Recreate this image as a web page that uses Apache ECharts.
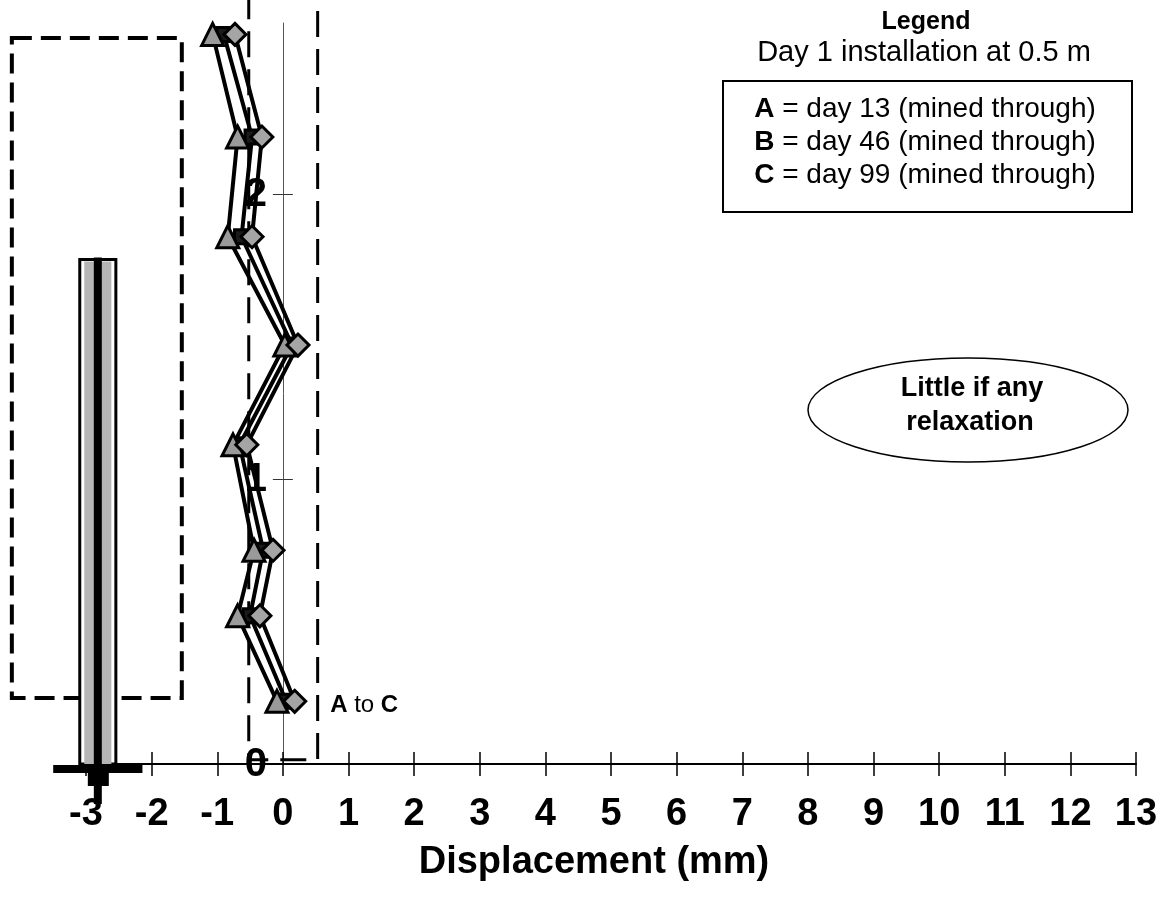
<!DOCTYPE html>
<html>
<head>
<meta charset="utf-8">
<script src="https://cdn.jsdelivr.net/npm/echarts@6/dist/echarts.min.js"></script>
<style>
  html, body { margin: 0; padding: 0; background: #fff; }
  #chart { width: 1171px; height: 899px; }
</style>
</head>
<body>
<div id="chart"></div>
<script>
// Profile of borehole displacement vs depth, three readings after mining through.
const depth = [2.56, 2.20, 1.85, 1.47, 1.12, 0.75, 0.52, 0.22];      // m
const dispA = [-0.73, -0.32, -0.47, 0.23, -0.55, -0.15, -0.35, 0.18]; // day 13
const dispB = [-0.90, -0.47, -0.63, 0.14, -0.66, -0.30, -0.50, 0.05]; // day 46
const dispC = [-1.07, -0.69, -0.84, 0.03, -0.76, -0.44, -0.69, -0.09]; // day 99
const yLabelValues = [0, 1, 2];
const yTickValues = [1, 2];

// annotations, in data units: [x0, y0, x1, y1]
const leftBox = [-4.13, 0.232, -1.54, 2.547];
const zoneBox = [-0.52, 0.015, 0.53, 2.8];
const pillar = { x: -2.82, halfW: 0.275, top: 1.77, baseHalf: 0.68 };
const noteAtoC = [0.72, 0.205];

const FONT = 'Arial, "Liberation Sans", sans-serif';
const chart = echarts.init(document.getElementById('chart'), null, { renderer: 'canvas' });

function lineSeries(name, xs, symbol, size, fill) {
  return {
    name, type: 'line', xAxisIndex: 0, yAxisIndex: 0,
    data: depth.map((d, i) => [xs[i], d]),
    symbol, symbolSize: size, showAllSymbol: true,
    lineStyle: { color: '#000', width: 4 },
    itemStyle: { color: fill, borderColor: '#000', borderWidth: 3 },
    z: 3,
  };
}

chart.setOption({
  animation: false,
  backgroundColor: '#fff',
  grid: { left: 86, right: 35, top: 23, bottom: 135, containLabel: false, outerBoundsMode: 'none' },
  xAxis: [{
    type: 'value', min: -3, max: 13, interval: 1, position: 'bottom',
    axisLine: { onZero: false, lineStyle: { color: '#000', width: 2 } },
    axisTick: { length: 12, lineStyle: { color: '#000', width: 1.5 } },
    axisLabel: { color: '#000', fontFamily: FONT, fontWeight: 'bold', fontSize: 38, margin: 32 },
    splitLine: { show: false },
    name: 'Displacement (mm)', nameLocation: 'middle', nameGap: 80,
    nameTextStyle: { color: '#000', fontFamily: FONT, fontWeight: 'bold', fontSize: 38, padding: [0, 34, 0, 0] },
  }, {
    type: 'value', min: -3, max: 13, interval: 1, position: 'bottom',
    axisLine: { show: false, onZero: false },
    axisTick: { inside: true, length: 12, lineStyle: { color: '#000', width: 1.5 } },
    axisLabel: { show: false }, splitLine: { show: false },
  }],
  yAxis: [{
    type: 'value', min: 0, max: 2.6, position: 'left',
    axisLine: { onZero: true, onZeroAxisIndex: 0, lineStyle: { color: '#555', width: 1 } },
    axisTick: { customValues: yTickValues, length: 10, lineStyle: { color: '#333', width: 1 } },
    axisLabel: { show: false },
    splitLine: { show: false },
  }, {
    type: 'value', min: 0, max: 2.6, position: 'left',
    axisLine: { show: false, onZero: true, onZeroAxisIndex: 0 },
    axisTick: { customValues: yTickValues, inside: true, length: 10, lineStyle: { color: '#333', width: 1 } },
    axisLabel: { show: false }, splitLine: { show: false },
  }],
  series: [
    lineSeries('B', dispB, 'rect', 14, '#1a1a1a'),
    lineSeries('C', dispC, 'triangle', 22, '#9a9a9a'),
    lineSeries('A', dispA, 'diamond', 22, '#a5a5a5'),
  ],
});

// ---- annotation overlay, positioned through the chart's own scales ----
const px = (x, y) => chart.convertToPixel({ seriesIndex: 0 }, [x, y]);
function boxRect(b) {
  const p0 = px(b[0], b[3]), p1 = px(b[2], b[1]);
  return { x: p0[0], y: p0[1], width: p1[0] - p0[0], height: p1[1] - p0[1] };
}

const pTop = px(pillar.x, pillar.top);
const pBot = px(pillar.x, 0);
const pW = px(pillar.x + pillar.halfW, 0)[0] - pBot[0];
const bW = px(pillar.x + pillar.baseHalf, 0)[0] - pBot[0];
const cx = pBot[0];
const pH = pBot[1] - pTop[1];
const note = px(noteAtoC[0], noteAtoC[1]);

// y labels sit beside the axis line at x = 0 (the axis itself keeps its labels at the grid edge)
const yLabelTexts = yLabelValues.map(v => {
  const p = px(0, v);
  return {
    type: 'text', z: 2, x: p[0] - 16, y: p[1] + 1,
    style: { text: String(v), align: 'right', verticalAlign: 'middle', fontFamily: FONT, fontSize: 40, fontWeight: 'bold', fill: '#000' },
  };
});

chart.setOption({
  graphic: [
    ...yLabelTexts,
    { type: 'rect', z: 1, shape: boxRect(leftBox),
      style: { fill: 'none', stroke: '#000', lineWidth: 4, lineDash: [20, 9] } },
    { type: 'rect', z: 1, shape: boxRect(zoneBox),
      style: { fill: 'none', stroke: '#000', lineWidth: 3, lineDash: [26, 12] } },

    // bolt / pillar drawing
    { type: 'rect', z: 10, shape: { x: cx - pW, y: pTop[1], width: pW * 2, height: pH },
      style: { fill: '#fff', stroke: '#000', lineWidth: 3 } },
    { type: 'rect', z: 11, shape: { x: cx - pW * 0.75, y: pTop[1] + 2, width: pW * 1.5, height: pH - 2 },
      style: { fill: '#b5b5b5' } },
    { type: 'rect', z: 12, shape: { x: cx - 4, y: pTop[1] - 2, width: 8, height: pH + 2 },
      style: { fill: '#000' } },
    { type: 'rect', z: 12, shape: { x: cx - bW, y: pBot[1] + 1, width: bW * 2, height: 8 },
      style: { fill: '#000' } },
    { type: 'rect', z: 12, shape: { x: cx - 10, y: pBot[1] + 9, width: 21, height: 13 },
      style: { fill: '#000' } },
    { type: 'rect', z: 12, shape: { x: cx - 4, y: pBot[1] + 22, width: 8, height: 18 },
      style: { fill: '#000' } },

    // A to C note
    { type: 'text', z: 5, x: note[0], y: note[1],
      style: {
        text: '{b|A} to {b|C}', verticalAlign: 'middle', fontFamily: FONT, fontSize: 24, fill: '#000',
        rich: { b: { fontFamily: FONT, fontSize: 24, fontWeight: 'bold', fill: '#000' } },
      } },

    // legend block
    { type: 'text', z: 5, x: 926, y: 22,
      style: { text: 'Legend', align: 'center', verticalAlign: 'middle', fontFamily: FONT, fontSize: 25, fontWeight: 'bold', fill: '#000' } },
    { type: 'text', z: 5, x: 924, y: 53,
      style: { text: 'Day 1 installation at 0.5 m', align: 'center', verticalAlign: 'middle', fontFamily: FONT, fontSize: 29, fill: '#000' } },
    { type: 'rect', z: 5, shape: { x: 723, y: 81, width: 409, height: 131 },
      style: { fill: '#fff', stroke: '#000', lineWidth: 2 } },
    ...[['A', 'day 13'], ['B', 'day 46'], ['C', 'day 99']].map(([k, d], i) => ({
      type: 'text', z: 6, x: 925, y: 109 + i * 33,
      style: {
        text: `{b|${k}} = ${d} (mined through)`, align: 'center', verticalAlign: 'middle',
        fontFamily: FONT, fontSize: 28, fill: '#000',
        rich: { b: { fontFamily: FONT, fontSize: 28, fontWeight: 'bold', fill: '#000' } },
      },
    })),

    // callout
    { type: 'ellipse', z: 5, shape: { cx: 968, cy: 410, rx: 160, ry: 52 },
      style: { fill: '#fff', stroke: '#000', lineWidth: 1.5 } },
    { type: 'text', z: 6, x: 972, y: 389,
      style: { text: 'Little if any', align: 'center', verticalAlign: 'middle', fontFamily: FONT, fontSize: 27, fontWeight: 'bold', fill: '#000' } },
    { type: 'text', z: 6, x: 970, y: 423,
      style: { text: 'relaxation', align: 'center', verticalAlign: 'middle', fontFamily: FONT, fontSize: 27, fontWeight: 'bold', fill: '#000' } },
  ],
});
</script>
</body>
</html>
